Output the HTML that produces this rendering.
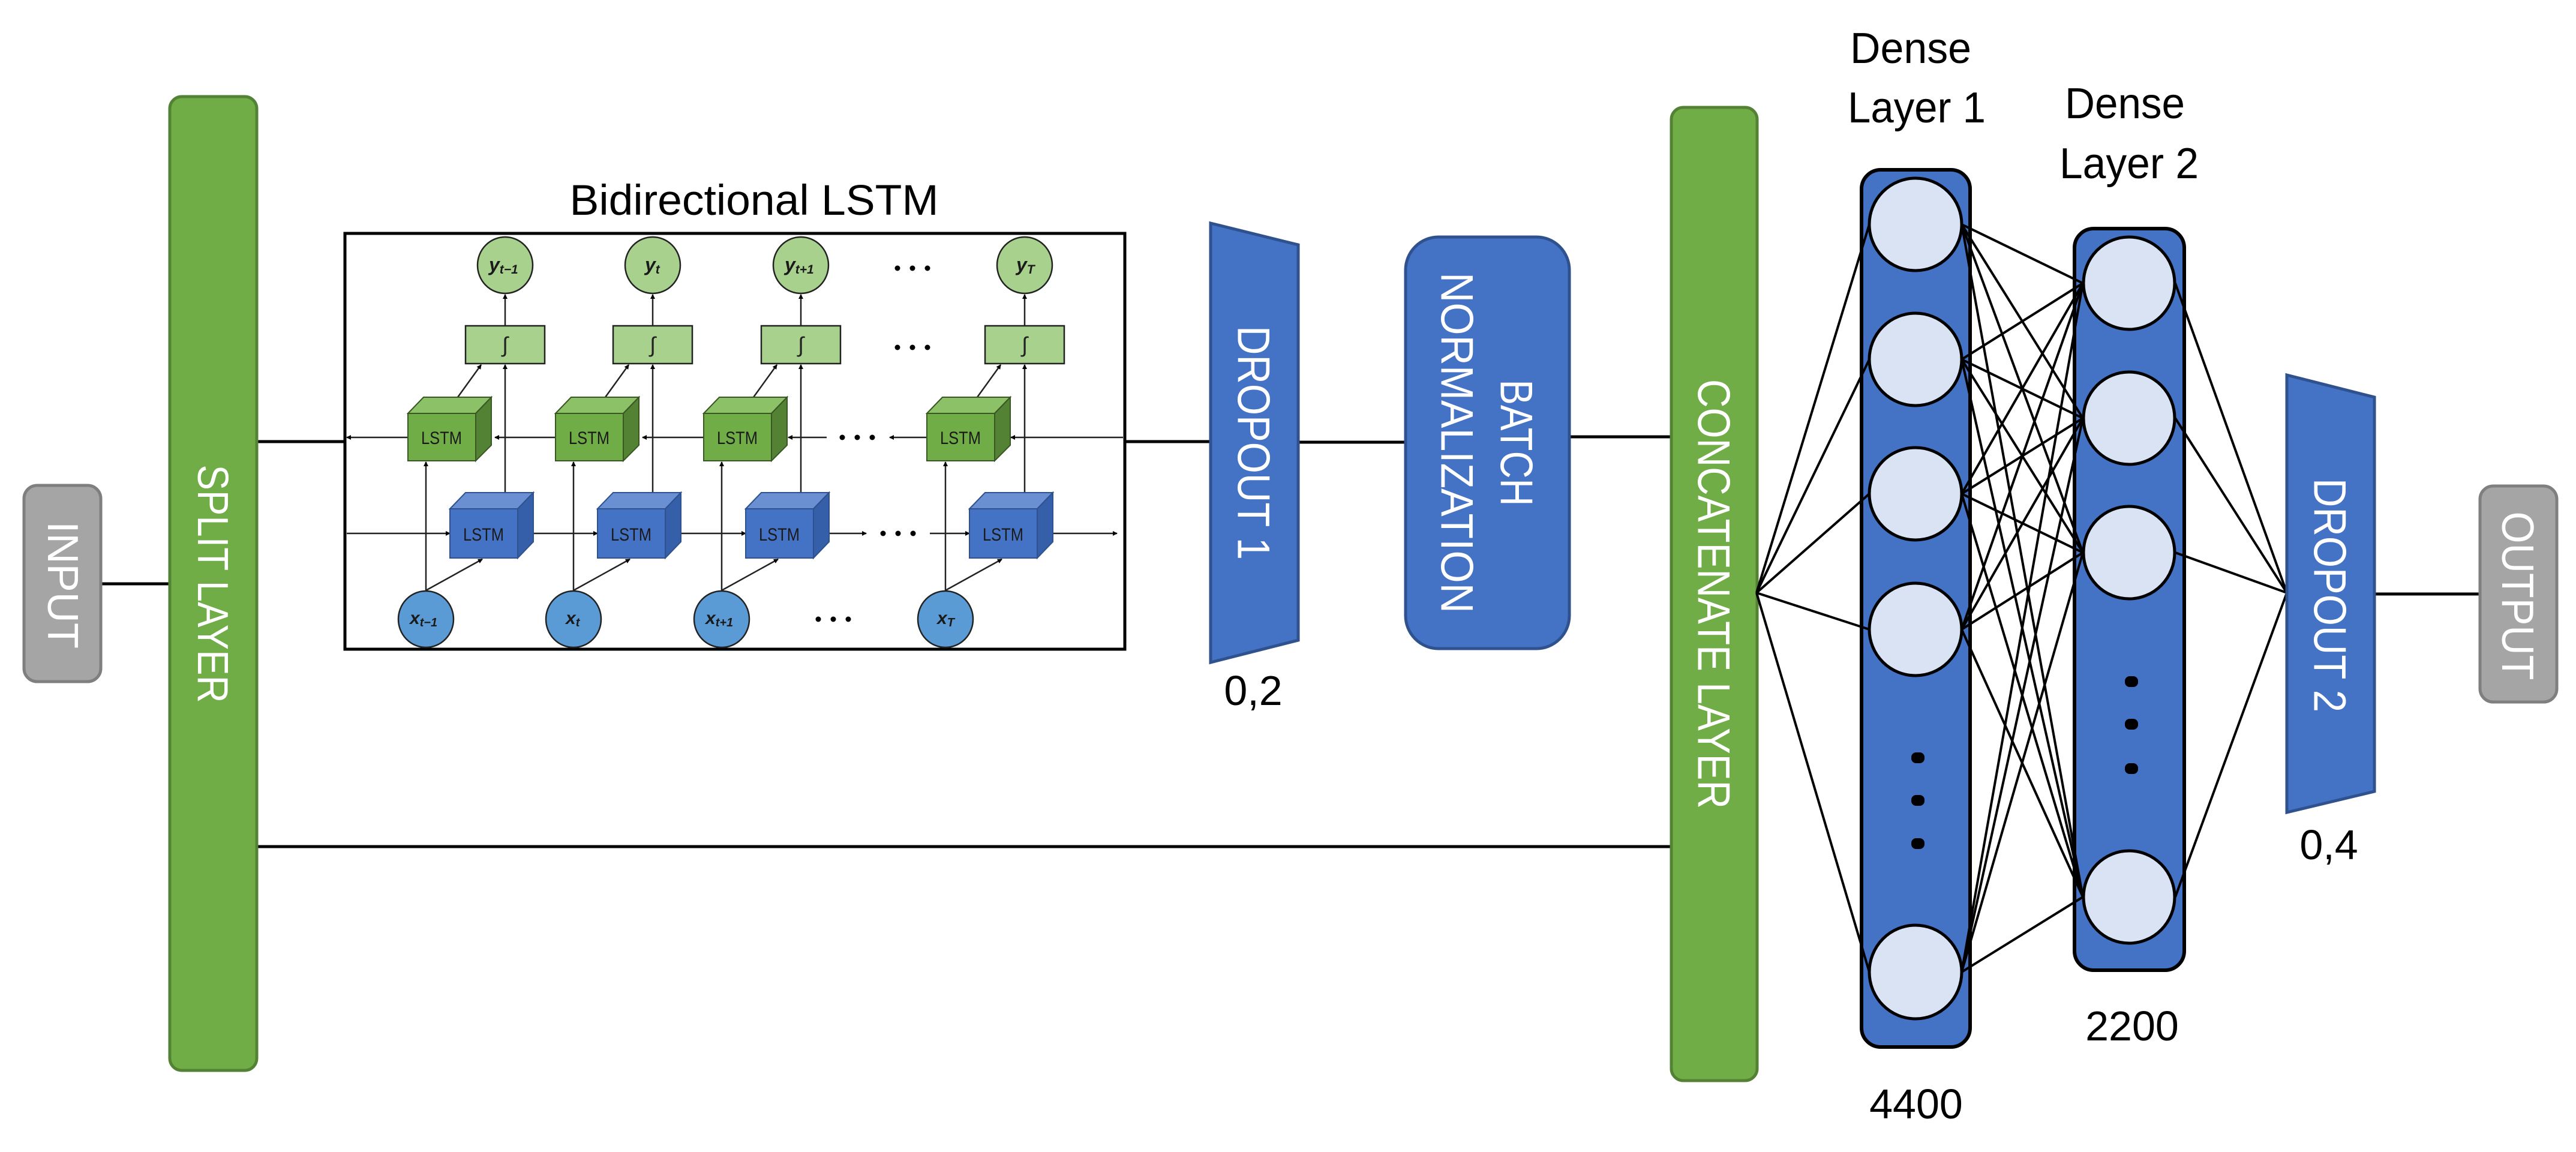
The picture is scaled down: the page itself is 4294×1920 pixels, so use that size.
<!DOCTYPE html>
<html><head><meta charset="utf-8"><style>
html,body{margin:0;padding:0;background:#fff;}
svg{display:block;}
text{font-family:"Liberation Sans",sans-serif;}
</style></head><body>
<svg width="4294" height="1920" viewBox="0 0 4294 1920" xmlns="http://www.w3.org/2000/svg">
<defs>
<marker id="ah" markerWidth="8" markerHeight="8" refX="7" refY="4" orient="auto" markerUnits="userSpaceOnUse">
<path d="M0,0 L8,4 L0,8 z" fill="#000"/>
</marker>
</defs>

<!-- main connectors -->
<g stroke="#000" stroke-width="5" fill="none">
<line x1="168" y1="973" x2="283" y2="973"/>
<line x1="429" y1="736" x2="573" y2="736"/>
<line x1="1877" y1="736" x2="2020" y2="736"/>
<line x1="2164" y1="737" x2="2343" y2="737"/>
<line x1="2617" y1="728" x2="2786" y2="728"/>
<line x1="429" y1="1411" x2="2786" y2="1411"/>
<line x1="3958" y1="990" x2="4134" y2="990"/>
</g>

<!-- INPUT -->
<rect x="40" y="809" width="128" height="327" rx="22" fill="#A5A5A5" stroke="#7F7F7F" stroke-width="5"/>
<text transform="translate(104,975) rotate(90)" text-anchor="middle" dominant-baseline="central" font-size="72" fill="#fff" textLength="212" lengthAdjust="spacingAndGlyphs">INPUT</text>

<!-- SPLIT -->
<rect x="283" y="161" width="145" height="1623" rx="20" fill="#70AD47" stroke="#548235" stroke-width="5"/>
<text transform="translate(354,973) rotate(90)" text-anchor="middle" dominant-baseline="central" font-size="72" fill="#fff" textLength="397" lengthAdjust="spacingAndGlyphs">SPLIT LAYER</text>

<!-- Bidirectional LSTM -->
<text x="1257" y="358" text-anchor="middle" font-size="71" fill="#000" textLength="615" lengthAdjust="spacingAndGlyphs">Bidirectional LSTM</text>
<rect x="575" y="389" width="1300" height="693" fill="#fff" stroke="#000" stroke-width="5"/>

<g stroke="#222" stroke-width="2.5" fill="none" marker-end="url(#ah)">
<!-- backward line -->
<line x1="1872" y1="729" x2="1685" y2="729"/>
<line x1="1545" y1="729" x2="1483" y2="729"/>
<line x1="1378" y1="729" x2="1314" y2="729"/>
<line x1="1173" y1="729" x2="1071" y2="729"/>
<line x1="926" y1="729" x2="825" y2="729"/>
<line x1="680" y1="729" x2="578" y2="729"/>
<!-- forward line -->
<line x1="578" y1="889" x2="750" y2="889"/>
<line x1="888" y1="889" x2="996" y2="889"/>
<line x1="1135" y1="889" x2="1243" y2="889"/>
<line x1="1382" y1="889" x2="1444" y2="889"/>
<line x1="1550" y1="889" x2="1616" y2="889"/>
<line x1="1755" y1="889" x2="1862" y2="889"/>
</g>

<!-- columns -->
<g id="cols">
</g>
<g font-family="Liberation Serif, serif">
<!-- column 1 -->
<g stroke="#222" stroke-width="2.5" fill="none" marker-end="url(#ah)">
<line x1="710" y1="984" x2="710" y2="770"/><line x1="710" y1="984" x2="804" y2="932"/>
<line x1="842" y1="821" x2="842" y2="608"/><line x1="763" y1="662" x2="802" y2="608"/>
<line x1="842" y1="543" x2="842" y2="491"/>
<line x1="956" y1="984" x2="956" y2="770"/><line x1="956" y1="984" x2="1050" y2="932"/>
<line x1="1088" y1="821" x2="1088" y2="608"/><line x1="1009" y1="662" x2="1048" y2="608"/>
<line x1="1088" y1="543" x2="1088" y2="491"/>
<line x1="1203" y1="984" x2="1203" y2="770"/><line x1="1203" y1="984" x2="1297" y2="932"/>
<line x1="1335" y1="821" x2="1335" y2="608"/><line x1="1256" y1="662" x2="1295" y2="608"/>
<line x1="1335" y1="543" x2="1335" y2="491"/>
<line x1="1576" y1="984" x2="1576" y2="770"/><line x1="1576" y1="984" x2="1670" y2="932"/>
<line x1="1708" y1="821" x2="1708" y2="608"/><line x1="1629" y1="662" x2="1668" y2="608"/>
<line x1="1708" y1="543" x2="1708" y2="491"/>
</g>
</g>

<!-- cubes: green -->
<g stroke="#385723" stroke-width="2">
<g><polygon points="680,689 706,662 819,662 793,689" fill="#8CC168"/><polygon points="793,689 819,662 819,742 793,768" fill="#548235"/><rect x="680" y="689" width="113" height="79" fill="#70AD47"/></g>
<g><polygon points="926,689 952,662 1065,662 1039,689" fill="#8CC168"/><polygon points="1039,689 1065,662 1065,742 1039,768" fill="#548235"/><rect x="926" y="689" width="113" height="79" fill="#70AD47"/></g>
<g><polygon points="1173,689 1199,662 1312,662 1286,689" fill="#8CC168"/><polygon points="1286,689 1312,662 1312,742 1286,768" fill="#548235"/><rect x="1173" y="689" width="113" height="79" fill="#70AD47"/></g>
<g><polygon points="1545,689 1571,662 1684,662 1658,689" fill="#8CC168"/><polygon points="1658,689 1684,662 1684,742 1658,768" fill="#548235"/><rect x="1545" y="689" width="113" height="79" fill="#70AD47"/></g>
</g>
<!-- cubes: blue -->
<g stroke="#2F528F" stroke-width="2">
<g><polygon points="750,848 776,821 889,821 863,848" fill="#6A8FD3"/><polygon points="863,848 889,821 889,903 863,930" fill="#355FA8"/><rect x="750" y="848" width="113" height="82" fill="#4472C4"/></g>
<g><polygon points="996,848 1022,821 1135,821 1109,848" fill="#6A8FD3"/><polygon points="1109,848 1135,821 1135,903 1109,930" fill="#355FA8"/><rect x="996" y="848" width="113" height="82" fill="#4472C4"/></g>
<g><polygon points="1243,848 1269,821 1382,821 1356,848" fill="#6A8FD3"/><polygon points="1356,848 1382,821 1382,903 1356,930" fill="#355FA8"/><rect x="1243" y="848" width="113" height="82" fill="#4472C4"/></g>
<g><polygon points="1616,848 1642,821 1755,821 1729,848" fill="#6A8FD3"/><polygon points="1729,848 1755,821 1755,903 1729,930" fill="#355FA8"/><rect x="1616" y="848" width="113" height="82" fill="#4472C4"/></g>
</g>
<g font-size="30" fill="#1a1a1a" text-anchor="middle">
<text x="736" y="740" textLength="68" lengthAdjust="spacingAndGlyphs">LSTM</text>
<text x="982" y="740" textLength="68" lengthAdjust="spacingAndGlyphs">LSTM</text>
<text x="1229" y="740" textLength="68" lengthAdjust="spacingAndGlyphs">LSTM</text>
<text x="1601" y="740" textLength="68" lengthAdjust="spacingAndGlyphs">LSTM</text>
<text x="806" y="901" textLength="68" lengthAdjust="spacingAndGlyphs">LSTM</text>
<text x="1052" y="901" textLength="68" lengthAdjust="spacingAndGlyphs">LSTM</text>
<text x="1299" y="901" textLength="68" lengthAdjust="spacingAndGlyphs">LSTM</text>
<text x="1672" y="901" textLength="68" lengthAdjust="spacingAndGlyphs">LSTM</text>
</g>

<!-- sigma boxes -->
<g fill="#A9D18E" stroke="#222" stroke-width="2.5">
<rect x="776" y="543" width="132" height="63"/>
<rect x="1022" y="543" width="132" height="63"/>
<rect x="1269" y="543" width="132" height="63"/>
<rect x="1642" y="543" width="132" height="63"/>
</g>
<g font-family="Liberation Serif, serif" font-size="36" text-anchor="middle" fill="#222">
<text x="842" y="587">∫</text><text x="1088" y="587">∫</text><text x="1335" y="587">∫</text><text x="1708" y="587">∫</text>
</g>

<!-- y ellipses -->
<g fill="#A9D18E" stroke="#222" stroke-width="2.5">
<ellipse cx="842" cy="442" rx="46" ry="47"/><ellipse cx="1088" cy="442" rx="46" ry="47"/>
<ellipse cx="1335" cy="442" rx="46" ry="47"/><ellipse cx="1708" cy="442" rx="46" ry="47"/>
</g>
<!-- x ellipses -->
<g fill="#5B9BD5" stroke="#222" stroke-width="2.5">
<ellipse cx="710" cy="1032" rx="46" ry="47"/><ellipse cx="956" cy="1032" rx="46" ry="47"/>
<ellipse cx="1203" cy="1032" rx="46" ry="47"/><ellipse cx="1576" cy="1032" rx="46" ry="47"/>
</g>
<g font-family="Liberation Serif, serif" fill="#1a1a1a" font-weight="bold">
<text x="815" y="452" font-size="32" font-style="italic">y<tspan font-size="21" dy="4">t−1</tspan></text>
<text x="1075" y="452" font-size="32" font-style="italic">y<tspan font-size="21" dy="4">t</tspan></text>
<text x="1308" y="452" font-size="32" font-style="italic">y<tspan font-size="21" dy="4">t+1</tspan></text>
<text x="1694" y="452" font-size="32" font-style="italic">y<tspan font-size="21" dy="4">T</tspan></text>
<text x="683" y="1040" font-size="30" font-style="italic">x<tspan font-size="20" dy="4">t−1</tspan></text>
<text x="943" y="1040" font-size="30" font-style="italic">x<tspan font-size="20" dy="4">t</tspan></text>
<text x="1176" y="1040" font-size="30" font-style="italic">x<tspan font-size="20" dy="4">t+1</tspan></text>
<text x="1562" y="1040" font-size="30" font-style="italic">x<tspan font-size="20" dy="4">T</tspan></text>
</g>
<!-- dots -->
<g fill="#000">
<circle cx="1496" cy="447" r="4.5"/><circle cx="1521" cy="447" r="4.5"/><circle cx="1546" cy="447" r="4.5"/>
<circle cx="1496" cy="579" r="4.5"/><circle cx="1521" cy="579" r="4.5"/><circle cx="1546" cy="579" r="4.5"/>
<circle cx="1404" cy="729" r="4.5"/><circle cx="1429" cy="729" r="4.5"/><circle cx="1454" cy="729" r="4.5"/>
<circle cx="1472" cy="889" r="4.5"/><circle cx="1497" cy="889" r="4.5"/><circle cx="1522" cy="889" r="4.5"/>
<circle cx="1364" cy="1032" r="4.5"/><circle cx="1389" cy="1032" r="4.5"/><circle cx="1414" cy="1032" r="4.5"/>
</g>

<!-- DROPOUT 1 -->
<polygon points="2018,372 2164,408 2164,1067 2018,1104" fill="#4472C4" stroke="#2F528F" stroke-width="5"/>
<text transform="translate(2089,738) rotate(90)" text-anchor="middle" dominant-baseline="central" font-size="76" fill="#fff" textLength="390" lengthAdjust="spacingAndGlyphs">DROPOUT 1</text>
<text x="2089" y="1175" text-anchor="middle" font-size="70" fill="#000">0,2</text>

<!-- BATCH NORMALIZATION -->
<rect x="2343" y="395" width="273" height="686" rx="55" fill="#4472C4" stroke="#2F528F" stroke-width="5"/>
<text transform="translate(2527,738) rotate(90)" text-anchor="middle" dominant-baseline="central" font-size="76" fill="#fff" textLength="211" lengthAdjust="spacingAndGlyphs">BATCH</text>
<text transform="translate(2428,738) rotate(90)" text-anchor="middle" dominant-baseline="central" font-size="76" fill="#fff" textLength="568" lengthAdjust="spacingAndGlyphs">NORMALIZATION</text>

<!-- CONCATENATE -->
<rect x="2786" y="179" width="143" height="1622" rx="20" fill="#70AD47" stroke="#548235" stroke-width="5"/>
<text transform="translate(2856,990) rotate(90)" text-anchor="middle" dominant-baseline="central" font-size="76" fill="#fff" textLength="716" lengthAdjust="spacingAndGlyphs">CONCATENATE LAYER</text>

<!-- Dense boxes -->
<rect x="3103" y="283" width="181" height="1462" rx="32" fill="#4472C4" stroke="#000" stroke-width="6"/>
<rect x="3458" y="381" width="183" height="1236" rx="32" fill="#4472C4" stroke="#000" stroke-width="6"/>

<!-- dense edges -->
<g stroke="#000" stroke-width="4">
<line x1="2928" y1="988" x2="3116" y2="374"/><line x1="2928" y1="988" x2="3116" y2="599"/>
<line x1="2928" y1="988" x2="3116" y2="823"/><line x1="2928" y1="988" x2="3116" y2="1049"/>
<line x1="2928" y1="988" x2="3116" y2="1620"/>
<g>
<line x1="3270" y1="374" x2="3472" y2="472"/><line x1="3270" y1="374" x2="3472" y2="697"/><line x1="3270" y1="374" x2="3472" y2="921"/><line x1="3270" y1="374" x2="3472" y2="1495"/>
<line x1="3270" y1="599" x2="3472" y2="472"/><line x1="3270" y1="599" x2="3472" y2="697"/><line x1="3270" y1="599" x2="3472" y2="921"/><line x1="3270" y1="599" x2="3472" y2="1495"/>
<line x1="3270" y1="823" x2="3472" y2="472"/><line x1="3270" y1="823" x2="3472" y2="697"/><line x1="3270" y1="823" x2="3472" y2="921"/><line x1="3270" y1="823" x2="3472" y2="1495"/>
<line x1="3270" y1="1049" x2="3472" y2="472"/><line x1="3270" y1="1049" x2="3472" y2="697"/><line x1="3270" y1="1049" x2="3472" y2="921"/><line x1="3270" y1="1049" x2="3472" y2="1495"/>
<line x1="3270" y1="1620" x2="3472" y2="472"/><line x1="3270" y1="1620" x2="3472" y2="697"/><line x1="3270" y1="1620" x2="3472" y2="921"/><line x1="3270" y1="1620" x2="3472" y2="1495"/>
</g>
<line x1="3626" y1="472" x2="3812" y2="988"/><line x1="3626" y1="697" x2="3812" y2="988"/>
<line x1="3626" y1="921" x2="3812" y2="988"/><line x1="3626" y1="1495" x2="3812" y2="988"/>
</g>

<!-- nodes -->
<g fill="#DAE3F3" stroke="#000" stroke-width="5">
<ellipse cx="3193" cy="374" rx="77" ry="77"/><ellipse cx="3193" cy="599" rx="77" ry="77"/>
<ellipse cx="3193" cy="823" rx="77" ry="77"/><ellipse cx="3193" cy="1049" rx="77" ry="77"/>
<ellipse cx="3193" cy="1620" rx="77" ry="78"/>
<ellipse cx="3549" cy="472" rx="76" ry="77"/><ellipse cx="3549" cy="697" rx="76" ry="77"/>
<ellipse cx="3549" cy="921" rx="76" ry="77"/><ellipse cx="3549" cy="1495" rx="76" ry="77"/>
</g>
<g fill="#000">
<rect x="3186" y="1254" width="22" height="18" rx="8"/><rect x="3186" y="1325" width="22" height="18" rx="8"/><rect x="3186" y="1397" width="22" height="18" rx="8"/>
<rect x="3542" y="1127" width="22" height="18" rx="8"/><rect x="3542" y="1198" width="22" height="18" rx="8"/><rect x="3542" y="1272" width="22" height="18" rx="8"/>
</g>

<g font-size="72" fill="#000" text-anchor="middle">
<text x="3185" y="105" textLength="202" lengthAdjust="spacingAndGlyphs">Dense</text>
<text x="3195" y="204" textLength="230" lengthAdjust="spacingAndGlyphs">Layer 1</text>
<text x="3542" y="197" textLength="200" lengthAdjust="spacingAndGlyphs">Dense</text>
<text x="3549" y="297" textLength="232" lengthAdjust="spacingAndGlyphs">Layer 2</text>
</g>
<g font-size="70" fill="#000" text-anchor="middle">
<text x="3194" y="1864">4400</text>
<text x="3554" y="1734">2200</text>
<text x="3882" y="1432">0,4</text>
</g>

<!-- DROPOUT 2 -->
<polygon points="3812,625 3958,662 3958,1319 3812,1354" fill="#4472C4" stroke="#2F528F" stroke-width="5"/>
<text transform="translate(3883,992) rotate(90)" text-anchor="middle" dominant-baseline="central" font-size="76" fill="#fff" textLength="390" lengthAdjust="spacingAndGlyphs">DROPOUT 2</text>

<!-- OUTPUT -->
<rect x="4134" y="810" width="128" height="360" rx="22" fill="#A5A5A5" stroke="#7F7F7F" stroke-width="5"/>
<text transform="translate(4197,993) rotate(90)" text-anchor="middle" dominant-baseline="central" font-size="75" fill="#fff" textLength="281" lengthAdjust="spacingAndGlyphs">OUTPUT</text>
</svg>
</body></html>
